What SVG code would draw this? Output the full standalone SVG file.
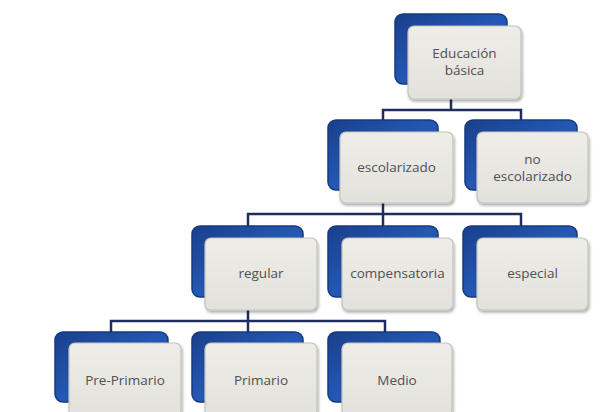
<svg xmlns="http://www.w3.org/2000/svg" width="603" height="412" viewBox="0 0 603 412">
<defs>
<linearGradient id="bg" x1="0" y1="0" x2="1" y2="1">
<stop offset="0" stop-color="#1a3f8c"/>
<stop offset="0.5" stop-color="#2458b4"/>
<stop offset="1" stop-color="#1d4da6"/>
</linearGradient>
<linearGradient id="gg" x1="0" y1="0" x2="0" y2="1">
<stop offset="0" stop-color="#eeede8"/>
<stop offset="1" stop-color="#e2e1dc"/>
</linearGradient>
<filter id="sh" x="-10%" y="-10%" width="130%" height="130%">
<feGaussianBlur in="SourceAlpha" stdDeviation="1.5"/>
<feOffset dx="1" dy="1.5"/>
<feComponentTransfer><feFuncA type="linear" slope="0.35"/></feComponentTransfer>
<feMerge><feMergeNode/><feMergeNode in="SourceGraphic"/></feMerge>
</filter>
</defs>
<style>
.back{fill:url(#bg);stroke:#173a7e;stroke-width:1.5}
.front{fill:url(#gg);stroke:#c4c3be;stroke-width:1.2;filter:url(#sh)}
.t{font-family:"Open Sans","Liberation Sans",sans-serif;font-size:13.5px;fill:#505050;text-anchor:middle}
.c{fill:none;stroke:#1e2d5c;stroke-width:2.5}
</style>
<rect width="603" height="412" fill="#ffffff"/>
<g id="connectors">
<path class="c" d="M451 99V110M383 120V110H521V120"/>
<path class="c" d="M383 203V214M248 226V214H521V226M383 214V226"/>
<path class="c" d="M248 310V321M111 332V321H385V332M248 321V332"/>
</g>
<g id="n-educacion">
<rect class="back" x="395" y="14" width="112" height="70" rx="8"/>
<rect class="front" x="408" y="26" width="113" height="73" rx="6"/>
<text class="t" x="464.5" y="58">Educación</text>
<text class="t" x="464.5" y="75">básica</text>
</g>
<g id="n-escolarizado">
<rect class="back" x="328" y="120" width="110" height="70" rx="8"/>
<rect class="front" x="340" y="132" width="113" height="71" rx="6"/>
<text class="t" x="396.5" y="172">escolarizado</text>
</g>
<g id="n-noescolarizado">
<rect class="back" x="465" y="120" width="112" height="70" rx="8"/>
<rect class="front" x="477" y="132" width="111" height="71" rx="6"/>
<text class="t" x="532.5" y="164">no</text>
<text class="t" x="532.5" y="181">escolarizado</text>
</g>
<g id="n-regular">
<rect class="back" x="192" y="226" width="111" height="71" rx="8"/>
<rect class="front" x="205" y="238" width="112" height="72" rx="6"/>
<text class="t" x="261" y="278">regular</text>
</g>
<g id="n-compensatoria">
<rect class="back" x="328" y="226" width="110" height="71" rx="8"/>
<rect class="front" x="342" y="238" width="111" height="72" rx="6"/>
<text class="t" x="397.5" y="278">compensatoria</text>
</g>
<g id="n-especial">
<rect class="back" x="463" y="226" width="114" height="71" rx="8"/>
<rect class="front" x="477" y="238" width="111" height="72" rx="6"/>
<text class="t" x="532.5" y="278">especial</text>
</g>
<g id="n-preprimario">
<rect class="back" x="55" y="332" width="113" height="70" rx="8"/>
<rect class="front" x="69" y="343" width="112" height="73" rx="6"/>
<text class="t" x="125" y="385">Pre-Primario</text>
</g>
<g id="n-primario">
<rect class="back" x="192" y="332" width="111" height="70" rx="8"/>
<rect class="front" x="205" y="343" width="112" height="73" rx="6"/>
<text class="t" x="261" y="385">Primario</text>
</g>
<g id="n-medio">
<rect class="back" x="328" y="332" width="112" height="70" rx="8"/>
<rect class="front" x="342" y="343" width="110" height="73" rx="6"/>
<text class="t" x="397" y="385">Medio</text>
</g>
</svg>
